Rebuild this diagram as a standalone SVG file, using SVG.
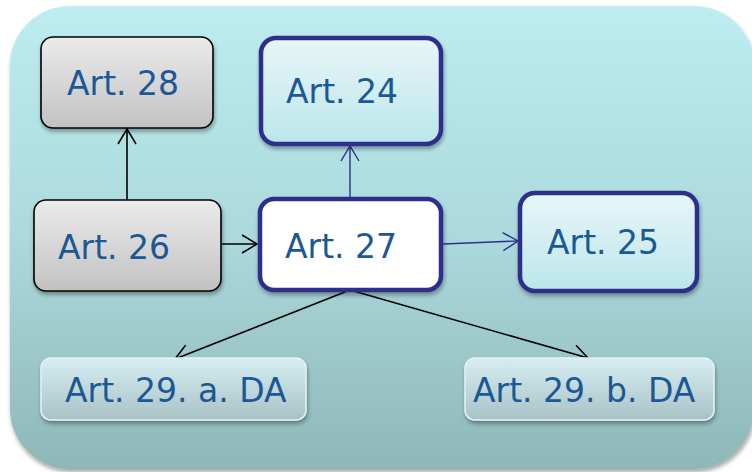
<svg xmlns="http://www.w3.org/2000/svg" width="752" height="472" viewBox="0 0 752 472">
<defs>
<linearGradient id="bg" x1="0" y1="0" x2="0" y2="1">
<stop offset="0" stop-color="#bdedf0"/>
<stop offset="0.5" stop-color="#abd9dc"/>
<stop offset="1" stop-color="#8fb7b8"/>
</linearGradient>
<linearGradient id="gray" x1="0" y1="0" x2="0" y2="1">
<stop offset="0" stop-color="#ebebeb"/>
<stop offset="1" stop-color="#c2c2c2"/>
</linearGradient>
<linearGradient id="cyan" x1="0" y1="0" x2="0" y2="1">
<stop offset="0" stop-color="#e8f6f8"/>
<stop offset="1" stop-color="#bbe6eb"/>
</linearGradient>
<linearGradient id="pale" x1="0" y1="0" x2="0" y2="1">
<stop offset="0" stop-color="#d6eef1"/>
<stop offset="1" stop-color="#a9c2c5"/>
</linearGradient>
<filter id="sh" x="-10%" y="-10%" width="125%" height="130%">
<feGaussianBlur in="SourceAlpha" stdDeviation="2"/>
<feOffset dx="1" dy="3" result="b"/>
<feComponentTransfer><feFuncA type="linear" slope="0.35"/></feComponentTransfer>
<feMerge><feMergeNode/><feMergeNode in="SourceGraphic"/></feMerge>
</filter>
<marker id="ab" viewBox="0 0 17 20" refX="16" refY="10" markerWidth="17" markerHeight="20" markerUnits="userSpaceOnUse" orient="auto">
<path d="M1,1 L16,10 L1,19" fill="none" stroke="#000" stroke-width="1.6"/>
</marker>
<marker id="an" viewBox="0 0 17 20" refX="16" refY="10" markerWidth="17" markerHeight="20" markerUnits="userSpaceOnUse" orient="auto">
<path d="M1,1 L16,10 L1,19" fill="none" stroke="#2e2e8c" stroke-width="1.4"/>
</marker>
</defs>
<style>
text{font-family:"DejaVu Sans",Verdana,sans-serif;font-size:33px;fill:#1b5894}
.g{fill:url(#gray);stroke:#000;stroke-width:1.6}
.n{fill:url(#cyan);stroke:#2e2e8c;stroke-width:4.5}
.w{fill:#fff;stroke:#2e2e8c;stroke-width:4.5}
.p{fill:url(#pale);stroke:#e4f3f5;stroke-width:1.5}
.cb{fill:none;stroke:#000;stroke-width:1.6;marker-end:url(#ab)}
.cn{fill:none;stroke:#2e2e8c;stroke-width:1.4;marker-end:url(#an)}
</style>
<rect x="10" y="6" width="744" height="463" rx="60" fill="url(#bg)" filter="url(#sh)"/>
<g id="connectors">
<line class="cb" x1="127" y1="200" x2="127" y2="129"/>
<line class="cn" x1="350" y1="197" x2="350" y2="146"/>
<line class="cb" x1="221" y1="244" x2="257" y2="244"/>
<line class="cn" x1="443" y1="244" x2="518" y2="241"/>
<line class="cb" x1="350" y1="290" x2="175" y2="359"/>
<line class="cb" x1="350" y1="290" x2="588" y2="358"/>
</g>
<g id="art28"><rect class="g" x="41" y="37" width="172" height="91" rx="12" filter="url(#sh)"/><text x="67" y="95">Art. 28</text></g>
<g id="art24"><rect class="n" x="261" y="38" width="180" height="106" rx="15" filter="url(#sh)"/><text x="286" y="103">Art. 24</text></g>
<g id="art26"><rect class="g" x="34" y="200" width="187" height="91" rx="12" filter="url(#sh)"/><text x="58" y="259">Art. 26</text></g>
<g id="art27"><rect class="w" x="260" y="199" width="181" height="91" rx="14" filter="url(#sh)"/><text x="285" y="258">Art. 27</text></g>
<g id="art25"><rect class="n" x="520" y="193" width="177" height="98" rx="15" filter="url(#sh)"/><text x="547" y="254">Art. 25</text></g>
<g id="art29a"><rect class="p" x="41" y="358" width="265" height="62" rx="10" filter="url(#sh)"/><text x="65" y="402">Art. 29. a. DA</text></g>
<g id="art29b"><rect class="p" x="465" y="358" width="249" height="62" rx="10" filter="url(#sh)"/><text x="473" y="402">Art. 29. b. DA</text></g>
</svg>
